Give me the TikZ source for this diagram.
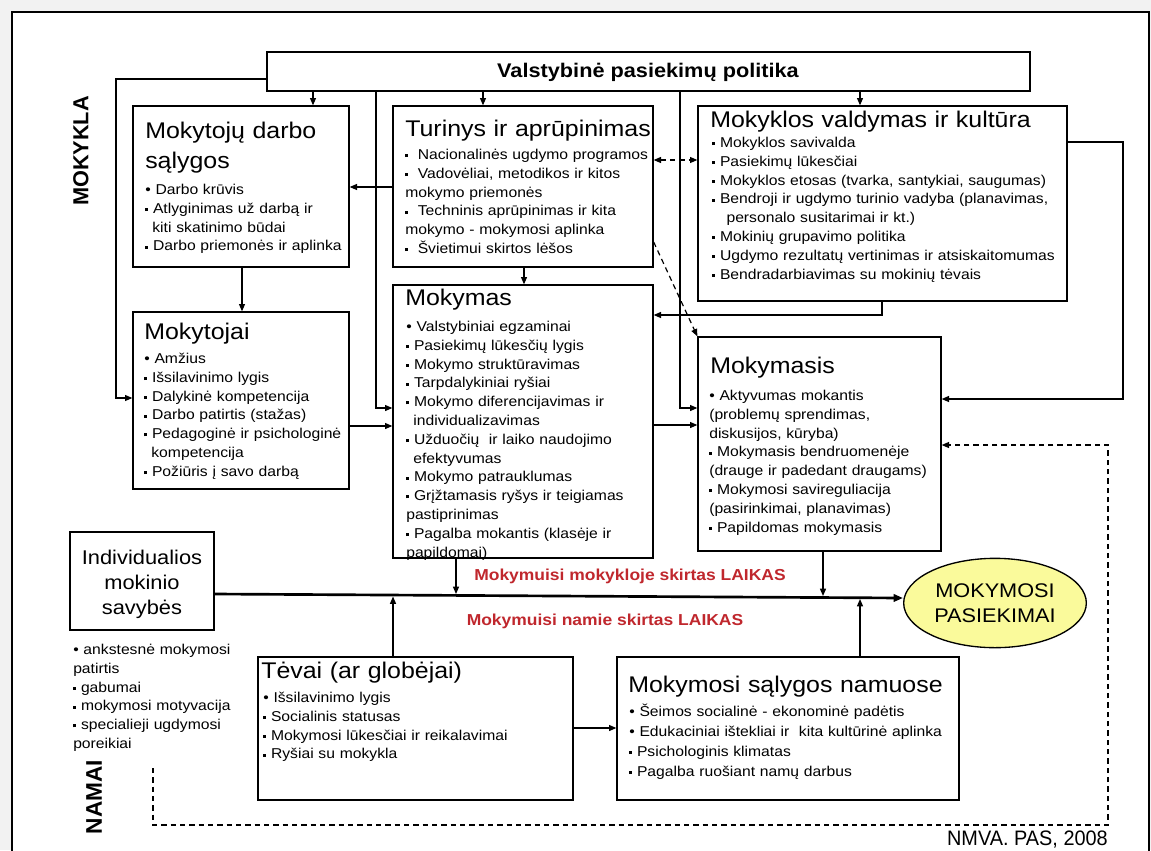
\documentclass[tikz,border=0pt]{standalone}
\usepackage{fontspec}
\setmainfont{Liberation Sans}[FakeStretch=1.1]
\newfontfamily\plainsans{Liberation Sans}
\newfontfamily\narrowsans{Liberation Sans}[FakeStretch=0.95]
\usetikzlibrary{arrows.meta,fit,shapes.geometric}

\definecolor{laikred}{RGB}{192,39,45}
\definecolor{goalyellow}{RGB}{250,250,155}
\definecolor{pagegray}{RGB}{242,242,242}

\newcommand{\tfont}{\fontsize{17}{22.5}\selectfont}
\newcommand{\bfont}{\fontsize{10.7}{14.1}\selectfont}
\newcommand{\sq}{\raisebox{0.16em}{\rule{0.21em}{0.21em}}\ }
\newcommand{\hang}{\hspace*{0.5em}}

\tikzset{
  box/.style={draw, line width=1pt, inner sep=0pt},
  ttl/.style={anchor=base west, inner sep=0pt, font=\tfont, text width=330pt, align=left},
  bul/.style={anchor=base west, inner sep=0pt, font=\bfont, text width=330pt, align=left},
  conn/.style={line width=0.9pt},
  arr/.style={conn, -{Triangle[length=5.5pt,width=4.5pt]}},
  dsh/.style={dash pattern=on 4pt off 3pt},
  mainarr/.style={line width=2pt, -{Triangle[length=7pt,width=5.5pt]}},
  laik/.style={inner sep=0pt, text=laikred, font=\bfseries\fontsize{11.9}{14}\selectfont},
}

\begin{document}
\begin{tikzpicture}[x=0.75pt,y=-0.75pt]
\useasboundingbox (0,0) rectangle (1151,850);
\fill[pagegray] (0,0) rectangle (1151,850);
\begin{scope}
  \clip (0,0) rectangle (1151,850);
  \draw[line width=1.1pt, fill=white] (12,12) rectangle (1149,880);
\end{scope}

% side labels
\node[rotate=90, inner sep=0pt, font=\plainsans\bfseries\fontsize{16.3}{18}\selectfont] (school) at (81,151) {MOKYKLA};
\node[rotate=90, inner sep=0pt, font=\plainsans\bfseries\fontsize{17}{18}\selectfont] (home) at (94,797) {NAMAI};

% boxes
\node[box, fit={(267,52) (1030,91)}] (pol) {};
\node[box, fit={(133,106) (349,267)}] (mds) {};
\node[box, fit={(133,312) (349,489)}] (mok) {};
\node[box, fit={(393,106) (653,267)}] (tur) {};
\node[box, fit={(393,285) (653,558)}] (mkm) {};
\node[box, fit={(698,106) (1067,301)}] (mvk) {};
\node[box, fit={(698,337) (941,551)}] (mks) {};
\node[box, fit={(70,532) (214,630)}] (ind) {};
\node[box, fit={(258,657) (573,800)}] (tev) {};
\node[box, fit={(617,657) (959,800)}] (msn) {};
\node[draw, ellipse, line width=1pt, fill=goalyellow, minimum width=137pt, minimum height=67pt,
      inner sep=0pt, align=center, font=\fontsize{14.8}{18.75}\selectfont] (goal) at (995,603) {MOKYMOSI\\PASIEKIMAI};

% box texts
\node[inner sep=0pt, font=\bfseries\fontsize{14.8}{16}\selectfont] (polT) at (648,72) {Valstybinė pasiekimų politika};

\node[ttl] (mdsT) at (145,138) {Mokytojų darbo\\sąlygos};
\node[bul] (mdsB) at (145,194.5) {• Darbo krūvis\\\sq Atlyginimas už darbą ir\\\hang kiti skatinimo būdai\\\sq Darbo priemonės ir aplinka};

\node[ttl] (mokT) at (144,339) {Mokytojai};
\node[bul] (mokB) at (144,363.5) {• Amžius\\\sq Išsilavinimo lygis\\\sq Dalykinė kompetencija\\\sq Darbo patirtis (stažas)\\\sq Pedagoginė ir psichologinė\\\hang kompetencija\\\sq Požiūris į savo darbą};

\node[ttl] (turT) at (405,136) {Turinys ir aprūpinimas};
\node[bul] (turB) at (405,159.5) {\sq\ Nacionalinės ugdymo programos\\\sq\ Vadovėliai, metodikos ir kitos\\mokymo priemonės\\\sq\ Techninis aprūpinimas ir kita\\mokymo - mokymosi aplinka\\\sq\ Švietimui skirtos lėšos};

\node[ttl] (mkmT) at (405,305) {Mokymas};
\node[bul] (mkmB) at (406,331.5) {• Valstybiniai egzaminai\\\sq Pasiekimų lūkesčių lygis\\\sq Mokymo struktūravimas\\\sq Tarpdalykiniai ryšiai\\\sq Mokymo diferencijavimas ir\\\hang individualizavimas\\\sq Užduočių\ \ ir laiko naudojimo\\\hang efektyvumas\\\sq Mokymo patrauklumas\\\sq Grįžtamasis ryšys ir teigiamas\\pastiprinimas\\\sq Pagalba mokantis (klasėje ir\\papildomai)};

\node[ttl] (mvkT) at (710,127) {Mokyklos valdymas ir kultūra};
\node[bul] (mvkB) at (712,147.5) {\sq Mokyklos savivalda\\\sq Pasiekimų lūkesčiai\\\sq Mokyklos etosas (tvarka, santykiai, saugumas)\\\sq Bendroji ir ugdymo turinio vadyba (planavimas,\\\hspace*{1em}personalo susitarimai ir kt.)\\\sq Mokinių grupavimo politika\\\sq Ugdymo rezultatų vertinimas ir atsiskaitomumas\\\sq Bendradarbiavimas su mokinių tėvais};

\node[ttl] (mksT) at (710,373) {Mokymasis};
\node[bul] (mksB) at (709,400.5) {• Aktyvumas mokantis\\(problemų sprendimas,\\diskusijos, kūryba)\\\sq Mokymasis bendruomenėje\\(drauge ir padedant draugams)\\\sq Mokymosi savireguliacija\\(pasirinkimai, planavimas)\\\sq Papildomas mokymasis};

\node[anchor=base, inner sep=0pt, text width=108pt, align=center, font=\fontsize{14.9}{19.1}\selectfont] (indT) at (142,564) {Individualios\\mokinio\\savybės};
\node[bul] (indB) at (73,654.5) {• ankstesnė mokymosi\\patirtis\\\sq gabumai\\\sq mokymosi motyvacija\\\sq specialieji ugdymosi\\poreikiai};

\node[ttl] (tevT) at (261,678) {Tėvai (ar globėjai)};
\node[bul] (tevB) at (263,702.5) {• Išsilavinimo lygis\\\sq Socialinis statusas\\\sq Mokymosi lūkesčiai ir reikalavimai\\\sq Ryšiai su mokykla};

\node[ttl] (msnT) at (628,692) {Mokymosi sąlygos namuose};
\node[bul, font=\fontsize{10.7}{15}\selectfont] (msnB) at (629,716.5) {• Šeimos socialinė - ekonominė padėtis\\• Edukaciniai ištekliai ir\ \ kita kultūrinė aplinka\\\sq Psichologinis klimatas\\\sq Pagalba ruošiant namų darbus};

% time labels and source
\node[laik] (schooltime) at (630,576) {Mokymuisi mokykloje skirtas LAIKAS};
\node[laik] (hometime) at (605,621) {Mokymuisi namie skirtas LAIKAS};
\node[anchor=base east, inner sep=0pt, font=\narrowsans\fontsize{15.7}{18}\selectfont] (src) at (1108,845) {NMVA. PAS, 2008};

% connectors from the policy box
\draw[arr] (pol.west |- 0,79) -| (116,398) -- (0,398 -| mok.west);
\draw[arr] (313,0 |- pol.south) -- (313,0 |- mds.north);
\draw[arr] (483,0 |- pol.south) -- (483,0 |- tur.north);
\draw[arr] (860,0 |- pol.south) -- (860,0 |- mvk.north);
\draw[arr] (376,0 |- pol.south) |- (0,408 -| mkm.west);
\draw[arr] (680,0 |- pol.south) |- (0,408 -| mks.west);

% school-level links
\draw[arr] (0,187 -| tur.west) -- (0,187 -| mds.east);
\draw[arr] (242,0 |- mds.south) -- (242,0 |- mok.north);
\draw[arr] (524,0 |- tur.south) -- (524,0 |- mkm.north);
\draw[arr] (0,426 -| mok.east) -- (0,426 -| mkm.west);
\draw[arr] (0,425 -| mkm.east) -- (0,425 -| mks.west);
\draw[conn, dsh, {Triangle[length=5.5pt,width=4.5pt]}-{Triangle[length=5.5pt,width=4.5pt]}] (0,160 -| tur.east) -- (0,160 -| mvk.west);
\draw[arr, dsh] (tur.east |- 0,242) -- (mks.north west);
\draw[arr] (882,0 |- mvk.south) |- (0,315 -| mkm.east);
\draw[arr] (0,142 -| mvk.east) -| (1123,399) -- (0,399 -| mks.east);

% feedback from home
\coordinate (fbstart) at (153,768);
\draw[arr, dsh] (fbstart) |- (1108,825) |- (0,445 -| mks.east);

% main line to achievement
\draw[mainarr] (ind.east |- 0,594) -- (goal.west |- 0,598);
\coordinate (onA) at (456,594);
\coordinate (onB) at (823,596);
\coordinate (onC) at (393,596.5);
\coordinate (onD) at (860,599);
\draw[arr] (456,0 |- mkm.south) -- (onA);
\draw[arr] (823,0 |- mks.south) -- (onB);
\draw[arr] (393,0 |- tev.north) -- (onC);
\draw[arr] (860,0 |- msn.north) -- (onD);
\draw[arr] (tev.east |- 0,728) -- (msn.west |- 0,728);
\end{tikzpicture}
\end{document}
